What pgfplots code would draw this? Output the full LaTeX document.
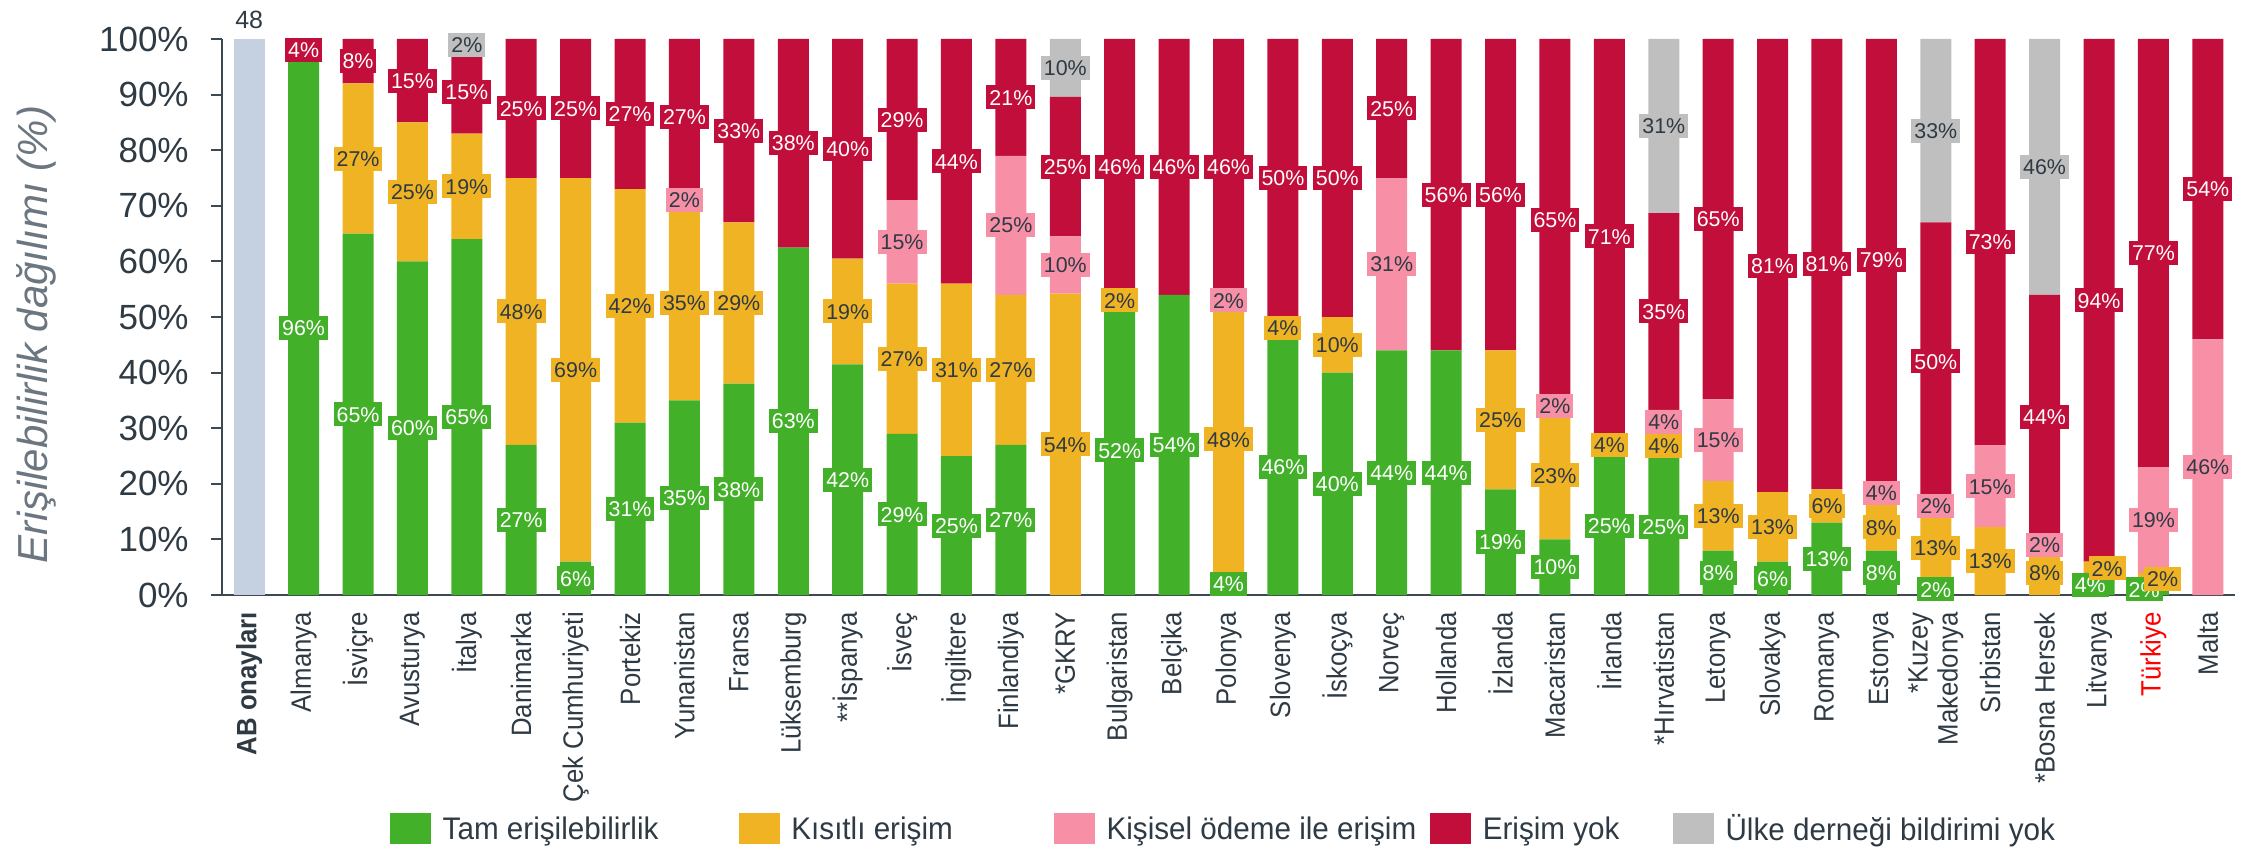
\documentclass[border=0pt]{standalone}
\usepackage{fontspec}
\setmainfont{Liberation Sans}
\newfontfamily\narrowfont[FakeStretch=0.95]{Liberation Sans}
\newfontfamily\xlabfont[FakeStretch=0.92]{Liberation Sans}
\usepackage{pgfplots}
\usepackage{pgfplotstable}
\pgfplotsset{compat=1.18}
\definecolor{cgreen}{HTML}{43B02A}
\definecolor{corange}{HTML}{F0B323}
\definecolor{cpink}{HTML}{F78FA7}
\definecolor{cred}{HTML}{C10E3B}
\definecolor{cgray}{HTML}{BFBFBF}
\definecolor{cab}{HTML}{C5D0E0}
\definecolor{cdark}{HTML}{2E3A44}
\definecolor{cylab}{HTML}{6B7680}
\definecolor{caxis}{HTML}{3C4852}
\definecolor{tred}{HTML}{FF0000}

% bar segments (bottom to top)
\pgfplotstableread{
x ab g o p r gr
0 100 0 0 0 0 0
1 0 96 0 0 4 0
2 0 65 27 0 8 0
3 0 60 25 0 15 0
4 0 64 19 0 15 2
5 0 27 48 0 25 0
6 0 6 69 0 25 0
7 0 31 42 0 27 0
8 0 35 35 2 28 0
9 0 38 29 0 33 0
10 0 62.5 0 0 37.5 0
11 0 41.5 19 0 39.5 0
12 0 29 27 15 29 0
13 0 25 31 0 44 0
14 0 27 27 25 21 0
15 0 0 54.2 10.3 25.1 10.4
16 0 52 2 0 46 0
17 0 54 0 0 46 0
18 0 4 48 2 46 0
19 0 46 4 0 50 0
20 0 40 10 0 50 0
21 0 44 0 31 25 0
22 0 44 0 0 56 0
23 0 19 25 0 56 0
24 0 10 23 2 65 0
25 0 25 4 0 71 0
26 0 24.6 4.3 4.4 35.4 31.3
27 0 8 12.5 14.7 64.8 0
28 0 6 12.5 0 81.5 0
29 0 13 6 0 81 0
30 0 8 8.3 4.2 79.5 0
31 0 2 13 2 50 33
32 0 0 12.2 14.7 73.1 0
33 0 0 8 2 44 46
34 0 4 2 0 94 0
35 0 2 2 19 77 0
36 0 0 0 46 54 0
}\bars

% value labels: x, y position, shown percentage
\pgfplotstableread{
x y l
1 48 96
2 32.5 65
3 30 60
4 32 65
5 13.5 27
6 3 6
7 15.5 31
8 17.5 35
9 19 38
10 31.25 63
11 20.75 42
12 14.5 29
13 12.5 25
14 13.5 27
16 26 52
17 27 54
18 2 4
19 23 46
20 20 40
21 22 44
22 22 44
23 9.5 19
24 5 10
25 12.5 25
26 12.3 25
27 4 8
28 3 6
29 6.5 13
30 4 8
31 1 2
33.84 1.8 4
34.83 1 2
}\lblg
\pgfplotstableread{
x y l
2 78.5 27
3 72.5 25
4 73.5 19
5 51 48
6 40.5 69
7 52 42
8 52.5 35
9 52.5 29
11 51 19
12 42.5 27
13 40.5 31
14 40.5 27
15 27.1 54
16 53 2
18 28 48
19 48 4
20 45 10
23 31.5 25
24 21.5 23
25 27 4
26 26.75 4
27 14.25 13
28 12.25 13
29 16 6
30 12.15 8
31 8.5 13
32 6.1 13
33 4 8
34.15 4.8 2
35.17 2.9 2
}\lblo
\pgfplotstableread{
x y l
8 71 2
12 63.5 15
14 66.5 25
15 59.35 10
18 53 2
21 59.5 31
24 34 2
26 31.1 4
27 27.85 15
30 18.4 4
31 16 2
32 19.55 15
33 9 2
35 13.5 19
36 23 46
}\lblp
\pgfplotstableread{
x y l
1 98 4
2 96 8
3 92.5 15
4 90.5 15
5 87.5 25
6 87.5 25
7 86.5 27
8 86 27
9 83.5 33
10 81.25 38
11 80.25 40
12 85.5 29
13 78 44
14 89.5 21
15 77.05 25
16 77 46
17 77 46
18 77 46
19 75 50
20 75 50
21 87.5 25
22 72 56
23 72 56
24 67.5 65
25 64.5 71
26 51 35
27 67.6 65
28 59.25 81
29 59.5 81
30 60.25 79
31 42 50
32 63.45 73
33 32 44
34 53 94
35 61.5 77
36 73 54
}\lblr
\pgfplotstableread{
x y l
4 99 2
15 94.8 10
26 84.35 31
31 83.5 33
33 77 46
}\lblgr

\tikzset{
  lblbox/.style={anchor=center, inner xsep=1.5pt, inner ysep=2.15pt,
    text height=7.7pt, text depth=0pt, font=\fontsize{10.7}{12}\selectfont},
}
\pgfplotsset{
  frame/.style={scale only axis, width=1006.5pt, height=278pt,
    xmin=-0.5, xmax=36.5, ymin=0, ymax=100, enlargelimits=false},
  sq legend/.style={legend image code/.code={\fill[##1] (0pt,-7.05pt) rectangle (20.5pt,8.45pt);}},
  lblplot/.style n args={2}{draw=none, mark=none, point meta=explicit symbolic,
    nodes near coords={\pgfplotspointmeta\%},
    every node near coord/.append style={lblbox, fill=#1, text=#2}},
}

\begin{document}
\begin{tikzpicture}
\begin{axis}[frame,
  ybar stacked, bar width=15.5pt,
  axis x line*=bottom, axis y line*=left,
  axis line style={caxis, line width=1pt},
  ytick={0,10,...,100},
  yticklabels={0\%,10\%,20\%,30\%,40\%,50\%,60\%,70\%,80\%,90\%,100\%},
  tick align=outside, major tick length=5.5pt,
  ytick style={caxis, line width=1pt},
  xtick style={draw=none},
  yticklabel style={anchor=east, inner sep=0pt, font=\fontsize{17.5}{20}\selectfont, text=cdark},
  yticklabel shift=11pt,
  xtick={0,...,36},
  xticklabels={\textbf{AB onayları},Almanya,İsviçre,Avusturya,İtalya,Danimarka,Çek Cumhuriyeti,Portekiz,Yunanistan,Fransa,Lüksemburg,**İspanya,İsveç,İngiltere,Finlandiya,*GKRY,Bulgaristan,Belçika,Polonya,Slovenya,İskoçya,Norveç,Hollanda,İzlanda,Macaristan,İrlanda,*Hırvatistan,Letonya,Slovakya,Romanya,Estonya,{*Kuzey\\Makedonya},Sırbistan,*Bosna Hersek,Litvanya,\textcolor{tred}{Türkiye},Malta},
  xticklabel style={rotate=90, anchor=east, inner sep=0pt, align=right,
    font=\xlabfont\fontsize{14}{15}\selectfont, text=cdark},
  xticklabel shift=2.85pt,
  ylabel={Erişilebilirlik dağılımı (\%)},
  ylabel style={font=\itshape\fontsize{21}{25}\selectfont, text=cylab,
    at={(axis description cs:-0.0924,0.4685)}, anchor=center},
  legend columns=5,
  legend style={at={(0,0)}, anchor=west, xshift=84pt, yshift=-116.6pt,
    draw=none, fill=none, inner sep=0pt, outer sep=0pt,
    nodes={inner sep=0pt},
    font=\narrowfont\fontsize{15.6}{18}\selectfont, text=cdark,
    /tikz/every odd column/.style={column sep=5.85pt},
    /tikz/every even column/.style={column sep=0pt}},
  legend cell align=left,
]
\addplot[fill=cab, draw=none, forget plot] table[x=x,y=ab]{\bars};
\addplot[fill=cgreen, draw=none, sq legend] table[x=x,y=g]{\bars};
\addlegendentry{\makebox[148pt][l]{Tam erişilebilirlik}}
\addplot[fill=corange, draw=none, sq legend] table[x=x,y=o]{\bars};
\addlegendentry{\makebox[131.25pt][l]{Kısıtlı erişim}}
\addplot[fill=cpink, draw=none, sq legend] table[x=x,y=p]{\bars};
\addlegendentry{\makebox[161.75pt][l]{Kişisel ödeme ile erişim}}
\addplot[fill=cred, draw=none, sq legend] table[x=x,y=r]{\bars};
\addlegendentry{\makebox[95pt][l]{Erişim yok}}
\addplot[fill=cgray, draw=none, sq legend] table[x=x,y=gr]{\bars};
\addlegendentry{Ülke derneği bildirimi yok}
\end{axis}
\begin{axis}[frame, hide axis, clip=false]
\addplot[lblplot={cgreen}{white}] table[x=x,y=y,meta=l]{\lblg};
\addplot[lblplot={corange}{cdark}] table[x=x,y=y,meta=l]{\lblo};
\addplot[lblplot={cpink}{cdark}] table[x=x,y=y,meta=l]{\lblp};
\addplot[lblplot={cred}{white}] table[x=x,y=y,meta=l]{\lblr};
\addplot[lblplot={cgray}{cdark}] table[x=x,y=y,meta=l]{\lblgr};
\addplot[draw=none, mark=none, point meta=explicit symbolic,
  nodes near coords={\pgfplotspointmeta},
  every node near coord/.append style={anchor=center, font=\fontsize{12.5}{14}\selectfont, text=cdark}]
  coordinates {(0,103.4) [48]};
\end{axis}
\pgfresetboundingbox
\path[use as bounding box] ([xshift=-111pt,yshift=-125.5pt]current axis.south west) rectangle ([xshift=5.5pt,yshift=19.5pt]current axis.north east);
\end{tikzpicture}
\end{document}
